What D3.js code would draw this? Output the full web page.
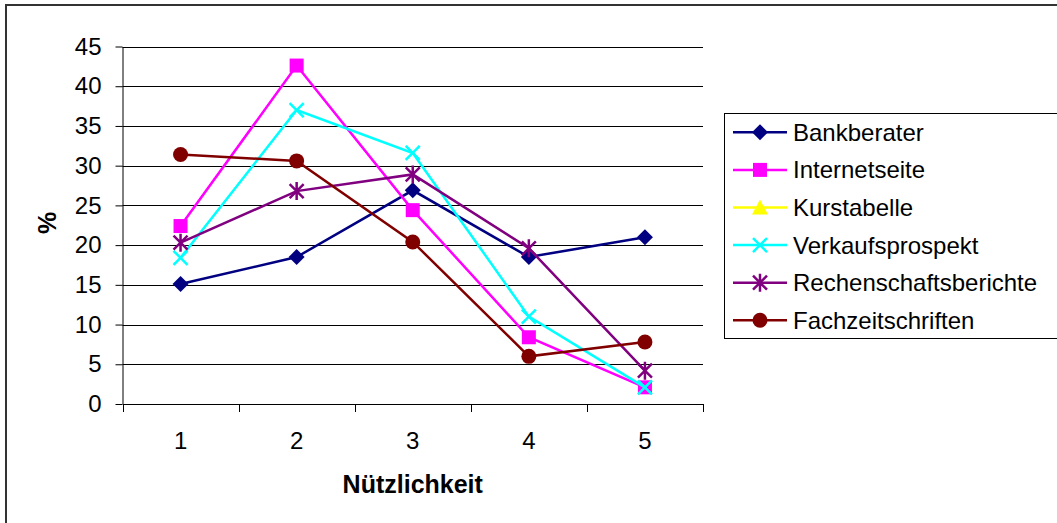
<!DOCTYPE html>
<html>
<head>
<meta charset="utf-8">
<script src="https://cdn.jsdelivr.net/npm/d3@7"></script>
<style>
  html, body { margin: 0; padding: 0; background: #fff; }
  svg { display: block; font-family: "Liberation Sans", Arial, sans-serif; }
</style>
</head>
<body>
<svg id="chart" width="1057" height="523"></svg>
<script>
// Rating categories (usefulness score 1..5)
const categories = ["1", "2", "3", "4", "5"];
const yTicks = [0, 5, 10, 15, 20, 25, 30, 35, 40, 45];

// Share of respondents (%) per source and rating
const bankberater           = [15.1, 18.5, 26.9, 18.5, 21.0];
const internetseite         = [22.4, 42.6, 24.4, 8.4, 2.1];
const kurstabelle           = [null, null, null, null, null];
const verkaufsprospekt      = [18.4, 37.0, 31.6, 11.0, 2.1];
const rechenschaftsberichte = [20.3, 26.8, 28.9, 19.6, 4.2];
const fachzeitschriften     = [31.4, 30.6, 20.4, 6.0, 7.8];

const series = [
  { name: "Bankberater",           values: bankberater,           color: "#000080", marker: "diamond" },
  { name: "Internetseite",         values: internetseite,         color: "#FF00FF", marker: "square" },
  { name: "Kurstabelle",           values: kurstabelle,           color: "#FFFF00", marker: "triangle" },
  { name: "Verkaufsprospekt",      values: verkaufsprospekt,      color: "#00FFFF", marker: "cross" },
  { name: "Rechenschaftsberichte", values: rechenschaftsberichte, color: "#800080", marker: "star" },
  { name: "Fachzeitschriften",     values: fachzeitschriften,     color: "#800000", marker: "circle" }
];

const FONT = 24;
const svg = d3.select("#chart");

// Outer chart frame
svg.append("rect")
  .attr("x", 6).attr("y", 5).attr("width", 1070).attr("height", 540)
  .attr("fill", "#fff").attr("stroke", "#333").attr("stroke-width", 2);

const plot = { left: 122.5, right: 703, top: 46.5, bottom: 404 };

const x = d3.scaleBand().domain(categories).range([plot.left, plot.right]);
const y = d3.scaleLinear().domain([0, 45]).range([plot.bottom, plot.top]);

// Horizontal gridlines
svg.append("g")
  .selectAll("line")
  .data(yTicks.filter(t => t > 0))
  .join("line")
  .attr("x1", plot.left).attr("x2", plot.right)
  .attr("y1", d => Math.round(y(d)) + 0.5).attr("y2", d => Math.round(y(d)) + 0.5)
  .attr("stroke", "#000").attr("stroke-width", 1);

// Y axis
const yAxis = svg.append("g")
  .attr("transform", `translate(${plot.left},0)`)
  .call(d3.axisLeft(y).tickValues(yTicks).tickSize(7).tickPadding(14).tickSizeOuter(0));
yAxis.select(".domain").attr("stroke", "#000");
yAxis.selectAll(".tick line").attr("stroke", "#000");
yAxis.selectAll(".tick text")
  .attr("font-size", FONT).attr("fill", "#000")
  .attr("font-family", "Liberation Sans, Arial, sans-serif");

// X axis with ticks between categories
const xAxis = svg.append("g")
  .attr("transform", `translate(0,${plot.bottom})`)
  .call(d3.axisBottom(x).tickSize(0).tickPadding(28));
xAxis.select(".domain").attr("stroke", "#000");
xAxis.selectAll(".tick text")
  .attr("font-size", FONT).attr("fill", "#000")
  .attr("font-family", "Liberation Sans, Arial, sans-serif");
const boundaries = categories.map(c => x(c)).concat([x(categories[categories.length - 1]) + x.bandwidth()]);
svg.append("g")
  .selectAll("line")
  .data(boundaries)
  .join("line")
  .attr("x1", d => Math.round(d) + 0.5).attr("x2", d => Math.round(d) + 0.5)
  .attr("y1", plot.bottom).attr("y2", plot.bottom + 8)
  .attr("stroke", "#000");

// Axis titles
svg.append("text")
  .attr("transform", `translate(56,223) rotate(-90)`)
  .attr("text-anchor", "middle")
  .attr("font-size", 25).attr("font-weight", "bold")
  .text("%");
svg.append("text")
  .attr("x", (plot.left + plot.right) / 2).attr("y", 493)
  .attr("text-anchor", "middle")
  .attr("font-size", 25).attr("font-weight", "bold")
  .text("Nützlichkeit");

// Marker drawing
function drawMarker(g, type, color) {
  if (type === "diamond") {
    g.append("path").attr("d", "M0,-8L8,0L0,8L-8,0Z").attr("fill", color);
  } else if (type === "square") {
    g.append("rect").attr("x", -7).attr("y", -7).attr("width", 14).attr("height", 14).attr("fill", color);
  } else if (type === "triangle") {
    g.append("path").attr("d", "M0,-8L8,7L-8,7Z").attr("fill", color);
  } else if (type === "cross") {
    g.append("path").attr("d", "M-7,-7L7,7M-7,7L7,-7").attr("stroke", color).attr("stroke-width", 2.5);
  } else if (type === "star") {
    g.append("path").attr("d", "M-7,-7L7,7M-7,7L7,-7M0,-9L0,9").attr("stroke", color).attr("stroke-width", 2.5);
  } else if (type === "circle") {
    g.append("circle").attr("r", 7.5).attr("fill", color);
  }
}

const line = d3.line()
  .defined(d => d.v != null)
  .x(d => x(d.c) + x.bandwidth() / 2)
  .y(d => y(d.v));

series.forEach(s => {
  const pts = s.values.map((v, i) => ({ c: categories[i], v }));
  const g = svg.append("g");
  g.append("path").datum(pts)
    .attr("d", line).attr("fill", "none")
    .attr("stroke", s.color).attr("stroke-width", 2.5);
  pts.filter(p => p.v != null).forEach(p => {
    const m = g.append("g").attr("transform", `translate(${x(p.c) + x.bandwidth() / 2},${y(p.v)})`);
    drawMarker(m, s.marker, s.color);
  });
});

// Legend
const legend = svg.append("g");
legend.append("rect")
  .attr("x", 724.5).attr("y", 113.5).attr("width", 400).attr("height", 225)
  .attr("fill", "#fff").attr("stroke", "#000").attr("stroke-width", 1);
series.forEach((s, i) => {
  const cy = 132.3 + i * 37.6;
  const row = legend.append("g").attr("transform", `translate(0,${cy})`);
  row.append("line").attr("x1", 733).attr("x2", 787).attr("y1", 0).attr("y2", 0)
    .attr("stroke", s.color).attr("stroke-width", 2.5);
  const m = row.append("g").attr("transform", "translate(760,0)");
  drawMarker(m, s.marker, s.color);
  row.append("text").attr("x", 793).attr("y", 8.5)
    .attr("font-size", FONT).attr("fill", "#000")
    .text(s.name);
});
</script>
</body>
</html>
